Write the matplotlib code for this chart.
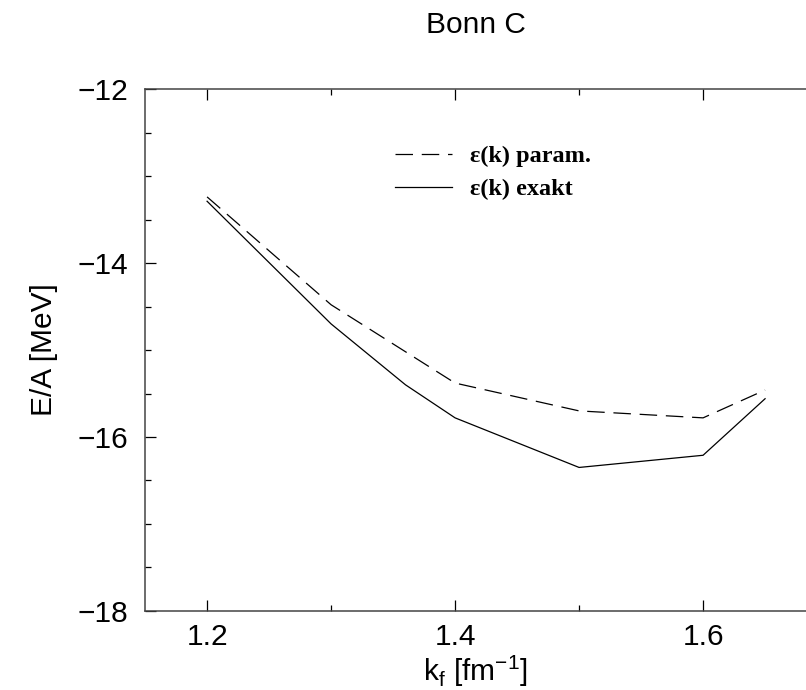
import matplotlib
matplotlib.use("Agg")
import matplotlib.pyplot as plt
from matplotlib.ticker import MultipleLocator

# k_f values [fm^-1] and binding energy per nucleon [MeV]
kf = [1.2, 1.3, 1.36, 1.4, 1.5, 1.6, 1.65]
ea_param = [-13.24, -14.48, -15.02, -15.38, -15.70, -15.78, -15.46]
ea_exakt = [-13.29, -14.70, -15.40, -15.78, -16.35, -16.21, -15.56]

plt.rcParams['font.family'] = ['Liberation Sans', 'DejaVu Sans']

fig = plt.figure(figsize=(8.06, 6.9), dpi=100)
ax = fig.add_axes([0.18, 0.1145, 0.82, 0.7565])

ax.plot(kf, ea_param, color='black', lw=0.9, ls=(0, (14, 7)), label='ε(k) param.')
ax.plot(kf, ea_exakt, color='black', lw=0.9, label='ε(k) exakt')

ax.set_xlim(1.15, 1.683)
ax.set_ylim(-18, -12)
ax.xaxis.set_major_locator(MultipleLocator(0.2))
ax.xaxis.set_minor_locator(MultipleLocator(0.1))
ax.yaxis.set_major_locator(MultipleLocator(2))
ax.yaxis.set_minor_locator(MultipleLocator(0.5))
ax.xaxis.set_major_formatter(plt.FuncFormatter(lambda v, p: f"{v:.1f}"))
ax.yaxis.set_major_formatter(plt.FuncFormatter(lambda v, p: f"\u2212{abs(v):.0f}"))

ax.spines['right'].set_visible(False)
for s in ['left', 'bottom', 'top']:
    ax.spines[s].set_color('#444444')
    ax.spines[s].set_linewidth(1.1)

ax.tick_params(which='both', direction='in', top=True, right=False,
               labelsize=21.5, color='black', width=0.9, pad=12)
ax.tick_params(axis='x', which='both', pad=9)
ax.tick_params(which='major', length=8)
ax.tick_params(which='minor', length=4.5)

ax.set_xlabel('k$_\\mathregular{f}$ [fm$^{\\mathregular{-1}}$]', fontsize=21.5, labelpad=1)
ax.set_ylabel('E/A [MeV]', fontsize=21.5, labelpad=14)
ax.set_title('Bonn C', fontsize=21.5, pad=40)

ax.legend(loc='upper left', bbox_to_anchor=(0.378, 0.892), frameon=False,
          borderpad=0, borderaxespad=0, handlelength=2.35, handletextpad=0.74,
          labelspacing=0.45,
          prop={'family': 'Liberation Serif', 'weight': 'bold', 'size': 17.5})

fig.savefig('out.png', dpi=100)
